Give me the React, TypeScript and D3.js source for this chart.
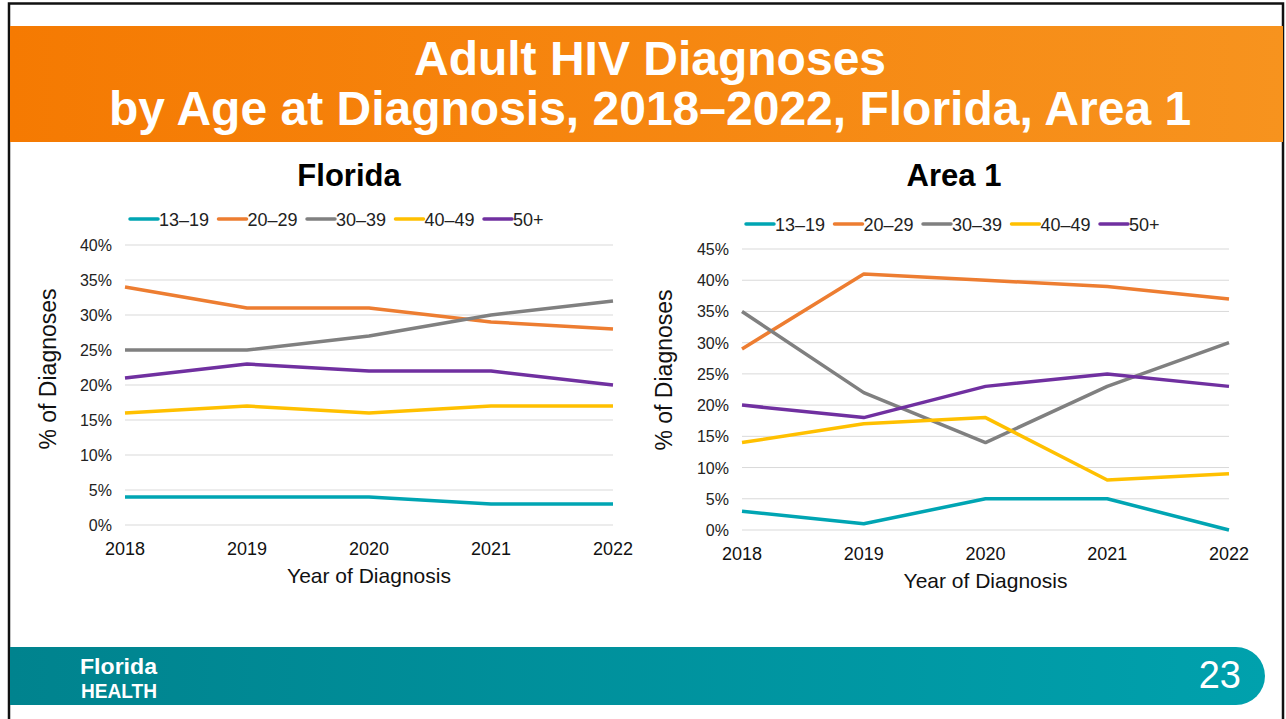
import * as d3 from 'd3';
import React from 'react';

const years = ['2018', '2019', '2020', '2021', '2022'];
const ageGroups = ['13–19', '20–29', '30–39', '40–49', '50+'];
const groupColors = ['#00A5B3', '#ED7D31', '#808080', '#FFC000', '#7030A0'];

// % of diagnoses, one array per age group
const floridaTeen = [4, 4, 4, 3, 3];
const florida20s = [34, 31, 31, 29, 28];
const florida30s = [25, 25, 27, 30, 32];
const florida40s = [16, 17, 16, 17, 17];
const florida50p = [21, 23, 22, 22, 20];

const area1Teen = [3, 1, 5, 5, 0];
const area120s = [29, 41, 40, 39, 37];
const area130s = [35, 22, 14, 23, 30];
const area140s = [14, 17, 18, 8, 9];
const area150p = [20, 18, 23, 25, 23];

const floridaTicks = [0, 5, 10, 15, 20, 25, 30, 35, 40];
const area1Ticks = [0, 5, 10, 15, 20, 25, 30, 35, 40, 45];

const FONT = '"Liberation Sans", Arial, sans-serif';

const Panel = ({ title, series, ticks, box, legendX, legendY, titleY }: any) => {
    const x = d3.scalePoint().domain(years).range([box.left, box.right]);
    const y = d3.scaleLinear().domain([0, ticks[ticks.length - 1]]).range([box.bottom, box.top]);
    const line = d3.line<number>()
        .x((_d, i) => x(years[i]) as number)
        .y((d) => y(d));
    const midX = (box.left + box.right) / 2;

    return (
        <g>
            <text x={box.titleX} y={titleY} textAnchor="middle" fontSize={31} fontWeight="bold" fill="#000">{title}</text>

            {/* legend */}
            {ageGroups.map((g, i) => (
                <g key={g} transform={`translate(${legendX + i * 88.5}, ${legendY})`}>
                    <line x1={0} x2={28} y1={0} y2={0} stroke={groupColors[i]} strokeWidth={3.5} strokeLinecap="round" />
                    <text x={29} y={6.5} fontSize={18} fill="#222">{g}</text>
                </g>
            ))}

            {/* gridlines + y ticks */}
            {ticks.map((t: number) => (
                <g key={t}>
                    <line x1={box.left} x2={box.right} y1={y(t)} y2={y(t)} stroke="#D9D9D9" strokeWidth={1} />
                    <text x={box.left - 13} y={y(t) + 6} textAnchor="end" fontSize={16} fill="#222">{t}%</text>
                </g>
            ))}

            {/* x ticks */}
            {years.map((yr) => (
                <text key={yr} x={x(yr)} y={box.bottom + 30} textAnchor="middle" fontSize={18} fill="#111">{yr}</text>
            ))}

            {series.map((s: number[], i: number) => (
                <path key={i} d={line(s) || ''} fill="none" stroke={groupColors[i]} strokeWidth={3.5} strokeLinejoin="round" />
            ))}

            <text x={midX} y={box.bottom + 58} textAnchor="middle" fontSize={21} fill="#111">Year of Diagnosis</text>
            <text transform={`translate(${box.axisTitleX}, ${box.axisTitleY}) rotate(-90)`} textAnchor="middle" fontSize={23} fill="#111">% of Diagnoses</text>
        </g>
    );
};

const App = () => {
    const W = 1286;
    const H = 719;
    return (
        <svg width={W} height={H} style={{ position: 'absolute', left: 0, top: 0 }} fontFamily={FONT}>
            <defs>
                <linearGradient id="hdr" x1="0" x2="1" y1="0" y2="0">
                    <stop offset="0%" stopColor="#F57A02" />
                    <stop offset="100%" stopColor="#F7931E" />
                </linearGradient>
                <linearGradient id="ftr" x1="0" x2="1" y1="0" y2="0">
                    <stop offset="0%" stopColor="#00838E" />
                    <stop offset="100%" stopColor="#00A1AD" />
                </linearGradient>
            </defs>
            <rect x={0} y={0} width={W} height={H} fill="#fff" />
            <rect x={9} y={3.5} width={1274} height={H + 10} fill="none" stroke="#111" strokeWidth={2.5} />

            {/* header */}
            <rect x={10} y={26} width={1273} height={116} fill="url(#hdr)" />
            <text x={650} y={75} textAnchor="middle" fontSize={48} fontWeight="bold" fill="#fff">Adult HIV Diagnoses</text>
            <text x={650} y={125} textAnchor="middle" fontSize={48} fontWeight="bold" fill="#fff">by Age at Diagnosis, 2018–2022, Florida, Area 1</text>

            <Panel
                title="Florida"
                series={[floridaTeen, florida20s, florida30s, florida40s, florida50p]}
                ticks={floridaTicks}
                box={{ left: 125, right: 613, top: 245, bottom: 525, titleX: 349, axisTitleX: 56, axisTitleY: 369 }}
                legendX={130}
                legendY={219}
                titleY={186}
            />
            <Panel
                title="Area 1"
                series={[area1Teen, area120s, area130s, area140s, area150p]}
                ticks={area1Ticks}
                box={{ left: 742, right: 1229, top: 249, bottom: 530, titleX: 954, axisTitleX: 672, axisTitleY: 370 }}
                legendX={746}
                legendY={224}
                titleY={186}
            />

            {/* footer */}
            <path d={`M10,647 H1236 A29,29 0 0 1 1236,705 H10 Z`} fill="url(#ftr)" />
            <text x={80} y={674} fontSize={22} fontWeight="bold" fill="#fff" textLength={77} lengthAdjust="spacingAndGlyphs">Florida</text>
            <text x={81} y={698} fontSize={21} fontWeight="bold" fill="#fff" textLength={76} lengthAdjust="spacingAndGlyphs">HEALTH</text>
            <text x={1241} y={688} textAnchor="end" fontSize={38} fill="#fff">23</text>
        </svg>
    );
};

export default App;
